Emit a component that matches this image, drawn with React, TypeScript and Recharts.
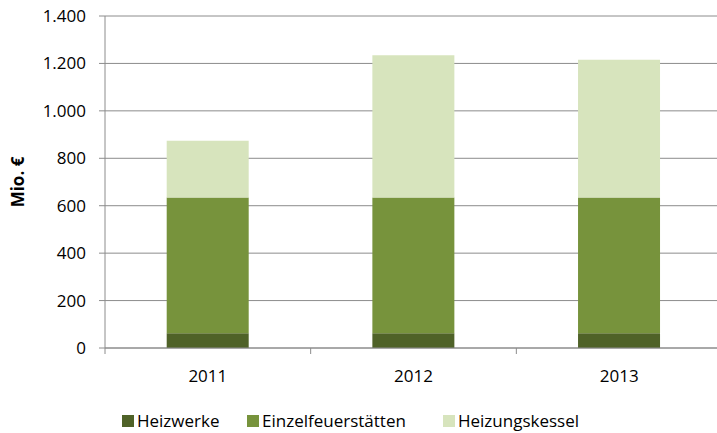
import React from 'react';
import { BarChart, Bar, XAxis, YAxis, CartesianGrid, Legend } from 'recharts';

const years = ['2011', '2012', '2013'];
const heizwerke = [62, 62, 62];
const einzelfeuerstaetten = [573, 573, 573];
const heizungskessel = [239, 599, 580];
const yTicks = [0, 200, 400, 600, 800, 1000, 1200, 1400];

const seriesNames = ['Heizwerke', 'Einzelfeuerstätten', 'Heizungskessel'];
const seriesKeys = ['heizwerke', 'einzel', 'kessel'];
const seriesColors = ['#4f6228', '#77933c', '#d7e4bd'];

const data = years.map((year, i) => ({
  year,
  heizwerke: heizwerke[i],
  einzel: einzelfeuerstaetten[i],
  kessel: heizungskessel[i],
}));

const FONT = '"Open Sans", sans-serif';
const AXIS = '#8c8c8c';

const fmt = (v: number) => String(v).replace(/\B(?=(\d{3})+(?!\d))/g, '.');

function XTick(props: any) {
  const { x, y, payload, width, visibleTicksCount, index } = props;
  const half = width / visibleTicksCount / 2;
  return (
    <g>
      <text x={x} y={y} dy="0.71em" textAnchor="middle" fontFamily={FONT} fontSize={17} fill="#000">
        {payload.value}
      </text>
      <line x1={x + half} x2={x + half} y1={y - 22} y2={y - 16} stroke={AXIS} strokeWidth={1} />
      {index === 0 && (
        <line x1={x - half} x2={x - half} y1={y - 22} y2={y - 16} stroke={AXIS} strokeWidth={1} />
      )}
    </g>
  );
}

const legendLeft = [122, 247, 443];

function LegendContent() {
  return (
    <div style={{ position: 'relative', width: 717, height: 25, fontFamily: FONT, fontSize: 17, color: '#000' }}>
      {seriesNames.map((name, i) => (
        <div
          key={name}
          style={{ position: 'absolute', left: legendLeft[i], top: 0, height: 25, display: 'flex', alignItems: 'center', whiteSpace: 'nowrap' }}
        >
          <span style={{ display: 'inline-block', width: 12, height: 12, background: seriesColors[i], marginRight: 3 }} />
          <span style={{ lineHeight: '25px' }}>{name}</span>
        </div>
      ))}
    </div>
  );
}

export default function App() {
  return (
    <div style={{ position: 'absolute', left: 0, top: 0, width: 717, height: 433, overflow: 'hidden', background: '#fff' }}>
      <BarChart
        width={722}
        height={433}
        data={data}
        margin={{ top: 16, right: 0, bottom: 0, left: 0 }}
        barCategoryGap="30%"
      >
        <CartesianGrid vertical={false} stroke={AXIS} strokeWidth={1} />
        <XAxis
          dataKey="year"
          height={60}
          tickSize={6}
          tickMargin={16}
          tickLine={false}
          axisLine={{ stroke: AXIS, strokeWidth: 1 }}
          tick={<XTick />}
          interval={0}
        />
        <YAxis
          width={105}
          domain={[0, 1400]}
          ticks={yTicks}
          interval={0}
          tickFormatter={fmt}
          tickSize={6}
          tickMargin={13}
          tickLine={{ stroke: AXIS }}
          axisLine={{ stroke: AXIS, strokeWidth: 1 }}
          tick={{ fontFamily: FONT, fontSize: 17, fill: '#000' }}
          label={{
            value: 'Mio. €',
            angle: -90,
            position: 'center',
            dx: -34.5,
            style: { fontFamily: FONT, fontSize: 17, fontWeight: 'bold', fill: '#000' },
          }}
        />
        <Legend verticalAlign="bottom" height={25} wrapperStyle={{ left: 0, width: 717 }} content={<LegendContent />} />
        {seriesKeys.map((k, i) => (
          <Bar key={k} dataKey={k} name={seriesNames[i]} stackId="a" fill={seriesColors[i]} isAnimationActive={false} />
        ))}
      </BarChart>
    </div>
  );
}
